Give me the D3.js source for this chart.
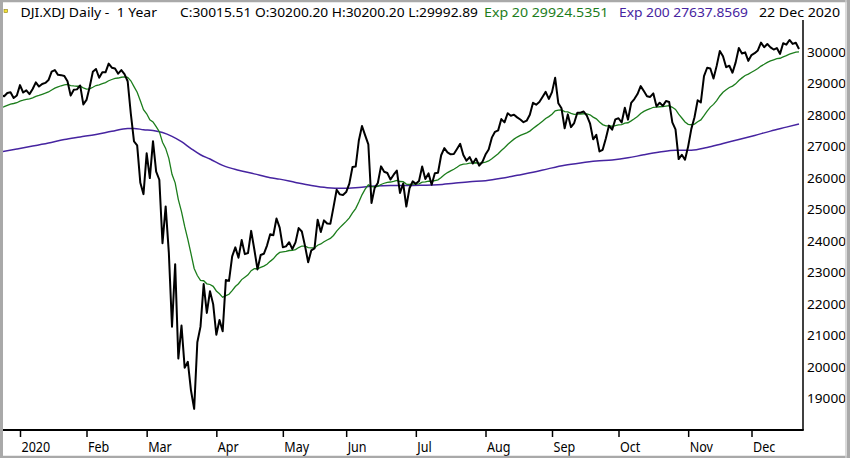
<!DOCTYPE html>
<html>
<head>
<meta charset="utf-8">
<script src="https://cdnjs.cloudflare.com/ajax/libs/d3/7.8.5/d3.min.js"></script>
<style>
  body { margin: 0; background: #fff; }
  svg text { font-family: "Noto Sans", "DejaVu Sans", sans-serif; white-space: pre; }
</style>
</head>
<body>
<div id="chart"></div>
<script>
// daily closes, 23 Dec 2019 .. 22 Dec 2020 (one per trading day)
const closes = [
  28552, 28515, 28621, 28645, 28462, 28538,
  28869, 28635, 28703, 28584, 28745, 28957, 28824, 28907, 28940, 29030, 29298, 29348, 29196, 29186, 29160, 28990, 28536, 28723, 28734, 28859, 28256,
  28400, 28808, 29291, 29380, 29103, 29277, 29276, 29551, 29423, 29398, 29232, 29348, 29220, 28992, 27961, 27081, 26958, 25767, 25409,
  26703, 25917, 27091, 26121, 25865, 23851, 25018, 23553, 21201, 23186, 20189, 21237, 19899, 20087, 19174, 18592, 20705, 21201, 22552, 21637, 22327, 21917,
  20944, 21413, 21053, 22680, 22654, 23434, 23719, 23391, 23950, 23504, 23538, 24242, 23650, 23019, 23476, 23515, 23775, 24134, 24102, 24634, 24346,
  23724, 23750, 23883, 23665, 23876, 24331, 24222, 23765, 23248, 23625, 23685, 24597, 24207, 24576, 24474, 24465, 24995, 25548, 25401, 25383,
  25475, 25743, 26270, 26282, 27111, 27572, 27272, 26990, 25128, 25606, 25763, 26290, 26120, 26080, 25871, 26025, 26156, 25446, 25746, 25016, 25596, 25813,
  25735, 25827, 26287, 25890, 26067, 25706, 26075, 26086, 26643, 26870, 26735, 26672, 26681, 26840, 27006, 26652, 26470, 26585, 26379, 26540, 26314, 26428,
  26664, 26828, 27202, 27387, 27433, 27791, 27687, 27977, 27897, 27931, 27845, 27778, 27693, 27740, 27930, 28308, 28248, 28332, 28492, 28654, 28430,
  28646, 29101, 28293, 28133, 27501, 27940, 27535, 27666, 27993, 27996, 28032, 27902, 27657, 27148, 27288, 26763, 26815, 27174, 27584, 27453, 27782,
  27817, 27683, 28149, 27773, 28303, 28426, 28587, 28838, 28680, 28514, 28494, 28606, 28195, 28309, 28211, 28364, 28336, 27685, 27463, 26520, 26659, 26502,
  26925, 27480, 27848, 28390, 28323, 29158, 29421, 29398, 29080, 29480, 29950, 29783, 29438, 29483, 29263, 29591, 30046, 29872, 29910, 29639,
  29824, 29884, 29970, 30218, 30070, 30174, 30069, 29999, 30046, 29862, 30199, 30155, 30303, 30179, 30216, 30016
];

// Exp 20 value per trading day
const ema20 = [
  28150, 28185, 28227, 28267, 28286, 28310,
  28363, 28389, 28419, 28435, 28465, 28512, 28542, 28577, 28612, 28652, 28713, 28773, 28813, 28849, 28879, 28890, 28856, 28843, 28833, 28835, 28780,
  28744, 28750, 28801, 28856, 28879, 28917, 28951, 29008, 29048, 29081, 29095, 29119, 29129, 29116, 29006, 28823, 28645, 28371, 28090,
  27958, 27765, 27701, 27551, 27391, 27054, 26861, 26546, 26037, 25766, 25235, 24854, 24383, 23974, 23517, 23048, 22825, 22670, 22659, 22562, 22540, 22481,
  22335, 22247, 22133, 22185, 22230, 22345, 22476, 22563, 22695, 22772, 22845, 22978, 23042, 23040, 23081, 23122, 23184, 23274, 23353, 23475, 23558,
  23574, 23591, 23619, 23623, 23647, 23712, 23761, 23761, 23712, 23704, 23702, 23787, 23827, 23898, 23953, 24002, 24097, 24235, 24346, 24445,
  24543, 24657, 24811, 24951, 25157, 25387, 25566, 25702, 25647, 25643, 25654, 25715, 25754, 25785, 25793, 25815, 25847, 25809, 25803, 25728, 25715, 25724,
  25725, 25735, 25788, 25798, 25824, 25813, 25838, 25862, 25936, 26025, 26093, 26148, 26199, 26260, 26331, 26362, 26372, 26392, 26391, 26405, 26396, 26399,
  26424, 26462, 26532, 26613, 26691, 26796, 26881, 26985, 27072, 27154, 27220, 27273, 27313, 27354, 27409, 27495, 27567, 27640, 27721, 27810, 27869,
  27943, 28053, 28076, 28081, 28026, 28018, 27972, 27943, 27948, 27953, 27961, 27955, 27927, 27853, 27799, 27700, 27616, 27574, 27575, 27563, 27584,
  27606, 27613, 27664, 27674, 27734, 27800, 27875, 27967, 28035, 28081, 28120, 28166, 28169, 28182, 28185, 28202, 28215, 28165, 28098, 27948, 27825, 27699,
  27625, 27611, 27634, 27706, 27765, 27898, 28043, 28172, 28258, 28374, 28524, 28644, 28720, 28793, 28838, 28910, 29018, 29099, 29176, 29220,
  29277, 29335, 29395, 29473, 29530, 29591, 29636, 29671, 29707, 29722, 29767, 29804, 29852, 29883, 29915, 29925
];

// Exp 200, read at these trading-day indexes
const ema200Days = [0, 5, 10, 15, 20, 25, 30, 35, 40, 42, 45, 48, 51, 54, 57, 60, 63, 66, 70, 75, 80, 85, 88, 93, 98, 103, 108,
  113, 118, 123, 128, 133, 138, 143, 148, 153, 158, 163, 168, 173, 178, 183, 188, 193, 198, 203, 208, 213, 218, 223, 228,
  233, 238, 243, 248, 252];
const ema200 = [26750, 26840, 26933, 27032, 27142, 27223, 27303, 27404, 27495, 27496, 27453, 27427, 27363, 27242, 27073, 26855, 26658, 26525, 26321, 26168, 26052, 25932, 25885, 25780, 25684, 25615, 25593,
  25622, 25666, 25684, 25684, 25692, 25706, 25756, 25804, 25837, 25911, 26008, 26102, 26218, 26323, 26398, 26458, 26493, 26560, 26658, 26744, 26805, 26803, 26891, 27019,
  27142, 27272, 27409, 27536, 27638];

const monthLabels = ["2020", "Feb", "Mar", "Apr", "May", "Jun", "Jul", "Aug", "Sep", "Oct", "Nov", "Dec"];
const monthStarts = [6, 27, 46, 68, 89, 109, 131, 153, 174, 195, 217, 237];
const priceTicks = [19000, 20000, 21000, 22000, 23000, 24000, 25000, 26000, 27000, 28000, 29000, 30000];

const headerTexts = ["DJI.XDJ Daily -  1 Year", "C:30015.51 O:30200.20 H:30200.20 L:29992.89",
  "Exp 20 29924.5351", "Exp 200 27637.8569", "22 Dec 2020"];

const W = 850, H = 458;
const plot = { left: 3, right: 803, top: 20, bottom: 430 };
const green = "#1c7d1c", purple = "#4624a0";

const svg = d3.select("#chart").append("svg")
    .attr("width", W)
    .attr("height", H);

svg.append("rect").attr("width", W).attr("height", H).attr("fill", "#fff");

const x = d3.scaleLinear()
    .domain([monthStarts[0], closes.length - 1])
    .range([20, 799]);

const y = d3.scaleLinear()
    .domain([19000, 30000])
    .range([396, 49.5]);

svg.append("clipPath").attr("id", "clip")
    .append("rect")
    .attr("x", plot.left).attr("y", plot.top)
    .attr("width", plot.right - plot.left).attr("height", plot.bottom - plot.top);

const g = svg.append("g").attr("clip-path", "url(#clip)");

// Exp 200
g.append("path")
    .datum(ema200Days.map((d, i) => [d, ema200[i]]))
    .attr("fill", "none")
    .attr("stroke", purple)
    .attr("stroke-width", 1.5)
    .attr("d", d3.line().x(d => x(d[0])).y(d => y(d[1])).curve(d3.curveMonotoneX));

// Exp 20
g.append("path")
    .datum(ema20)
    .attr("fill", "none")
    .attr("stroke", green)
    .attr("stroke-width", 1.3)
    .attr("d", d3.line().x((d, i) => x(i)).y(d => y(d)));

// close
g.append("path")
    .datum(closes)
    .attr("fill", "none")
    .attr("stroke", "#000")
    .attr("stroke-width", 2)
    .attr("stroke-linejoin", "round")
    .attr("d", d3.line().x((d, i) => x(i)).y(d => y(d)));

// frame (right + bottom only)
svg.append("line")
    .attr("x1", plot.right).attr("x2", plot.right)
    .attr("y1", plot.top).attr("y2", plot.bottom)
    .attr("stroke", "#000").attr("stroke-width", 1.5);
svg.append("line")
    .attr("x1", plot.left).attr("x2", plot.right + 0.75)
    .attr("y1", plot.bottom).attr("y2", plot.bottom)
    .attr("stroke", "#000").attr("stroke-width", 1.8);

// month axis
const xAxis = svg.append("g")
    .attr("transform", `translate(0,${plot.bottom})`)
    .call(d3.axisBottom(x).tickValues(monthStarts).tickFormat((d, i) => monthLabels[i]).tickSize(7));
xAxis.select(".domain").remove();
xAxis.selectAll(".tick line").attr("stroke", "#000").attr("stroke-width", 1.5);
xAxis.selectAll(".tick text")
    .attr("text-anchor", "start")
    .attr("x", 1)
    .attr("y", 21.5)
    .attr("dy", null)
    .attr("fill", "#000")
    .style("font-size", "13.5px")
    .each(function() {
        const w = this.getComputedTextLength();
        d3.select(this).attr("textLength", w * 0.93).attr("lengthAdjust", "spacingAndGlyphs");
    });

// price axis
const yAxis = svg.append("g")
    .attr("transform", `translate(${plot.right},0)`)
    .call(d3.axisRight(y).tickValues(priceTicks).tickFormat(d3.format("d")).tickSize(0));
yAxis.select(".domain").remove();
yAxis.selectAll(".tick text")
    .attr("x", 4)
    .attr("y", 6.5)
    .attr("dy", null)
    .attr("fill", "#000")
    .style("font-size", "13px")
    .attr("textLength", 39)
    .attr("lengthAdjust", "spacingAndGlyphs");

// header
const headerPos = [[20.5, 136.5, "#000"], [180, 298, "#000"], [484, 124.5, green], [619, 129, purple], [759, 81, "#000"]];
svg.append("g").selectAll("text")
    .data(headerTexts)
    .join("text")
    .attr("x", (d, i) => headerPos[i][0])
    .attr("y", 17)
    .attr("fill", (d, i) => headerPos[i][2])
    .attr("textLength", (d, i) => headerPos[i][1])
    .attr("lengthAdjust", "spacingAndGlyphs")
    .style("font-size", "12.5px")
    .text(d => d);

// small yellow flag
svg.append("rect")
    .attr("x", 4).attr("y", 9.5).attr("width", 3.5).attr("height", 3)
    .attr("fill", "#f2e23a").attr("stroke", "#8a7a10").attr("stroke-width", 0.6);

// outer grey border
svg.append("rect")
    .attr("x", 1.5).attr("y", 0.75)
    .attr("width", W - 3).attr("height", H - 1.5)
    .attr("fill", "none")
    .attr("stroke", "#a9a9a9")
    .attr("stroke-width", 3);
svg.append("line")
    .attr("x1", 846).attr("x2", 846).attr("y1", 0).attr("y2", H)
    .attr("stroke", "#cfcfcf").attr("stroke-width", 1.5);
</script>
</body>
</html>
